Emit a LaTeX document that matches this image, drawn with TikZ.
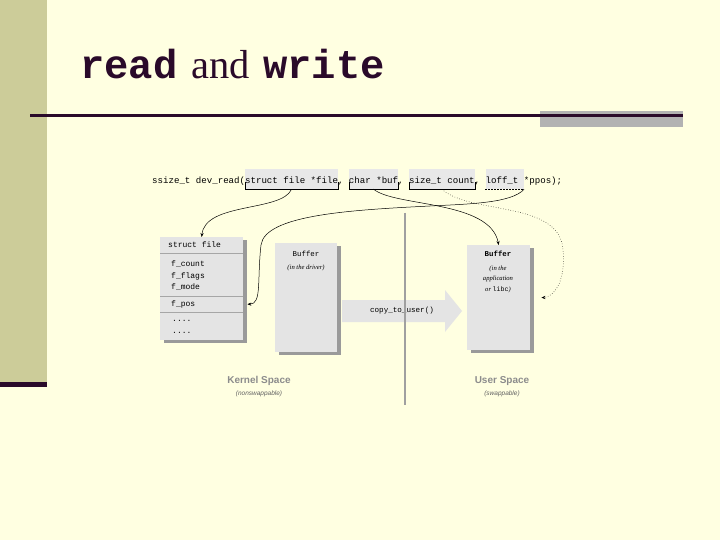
\documentclass[tikz,border=0pt]{standalone}
\usepackage{fontspec}
\setmainfont{Liberation Serif}
\setsansfont{Liberation Sans}
\setmonofont{Liberation Mono}
\usetikzlibrary{arrows.meta,shadows}
\definecolor{bgyellow}{HTML}{FFFFE1}
\definecolor{strip}{HTML}{CCCC99}
\definecolor{darkpurple}{HTML}{2A0A2A}
\definecolor{panelgray}{HTML}{E4E4E4}
\definecolor{arggray}{HTML}{E8E8E8}
\definecolor{shadowgray}{HTML}{9A9A9A}
\definecolor{labelgray}{HTML}{8C8C8C}
\definecolor{divgray}{HTML}{A0A0A0}
\tikzset{
  argbox/.style={fill=arggray, minimum height=20pt, inner sep=0pt},
  panel/.style={fill=panelgray, inner sep=0pt,
    drop shadow={shadow xshift=4pt, shadow yshift=-3pt, fill=shadowgray, opacity=1}},
  codetxt/.style={inner sep=0pt, font=\fontsize{9.11}{11}\ttfamily},
  boxtxt/.style={inner sep=0pt, font=\fontsize{8}{9}\ttfamily},
  smallit/.style={inner sep=0pt, font=\fontsize{6.6}{10.5}\itshape, align=center},
  spacelbl/.style={inner sep=0pt, text=labelgray, font=\fontsize{10}{11}\sffamily\bfseries},
  spacesub/.style={inner sep=0pt, text=labelgray!70!black, font=\fontsize{6.5}{7.5}\sffamily\itshape},
  link/.style={-{Stealth[length=4pt,width=3.2pt]}, line width=0.5pt},
  sep/.style={draw=gray!70, line width=0.5pt}
}
\begin{document}
\begin{tikzpicture}[x=1pt,y=-1pt]
\useasboundingbox (0,0) rectangle (720,540);
\fill[bgyellow] (0,0) rectangle (720,540);
% left strip
\fill[strip] (0,0) rectangle (47,382);
\fill[darkpurple] (0,382) rectangle (47,387);
% title
\node[anchor=base west, inner sep=0pt, text=darkpurple] (title) at (80,79)
  {\fontsize{40.5}{44}\selectfont\ttfamily\bfseries read\hspace{4pt}\rmfamily\mdseries{} and \hspace{3pt}\ttfamily\bfseries write};
% rule under title
\fill[gray!60] (540,111) rectangle (683,127);
\draw[darkpurple, line width=3pt] (30,116) -- (683,116);

% argument highlight boxes
\node[argbox, minimum width=92.9pt, anchor=west] (pfile) at (244.9,179) {};
\node[argbox, minimum width=49.2pt, anchor=west] (pbuf) at (348.8,179) {};
\node[argbox, minimum width=65.6pt, anchor=west] (pcount) at (408.9,179) {};
\node[argbox, minimum width=38.3pt, anchor=west] (pppos) at (485.4,179) {};
\foreach \n in {pfile,pbuf,pcount}
  \draw[line width=0.5pt] ([yshift=7pt]\n.south west) -- (\n.south west) -- (\n.south east) -- ([yshift=7pt]\n.south east);
\draw[line width=0.6pt, dashed, dash pattern=on 2pt off 1pt] (pppos.south west) -- (pppos.south east);
\node[codetxt, anchor=base west] (code) at (152,184)
  {ssize\_t dev\_read(struct file *file, char *buf, size\_t count, loff\_t *ppos);};

% struct file panel
\node[panel, minimum width=83pt, minimum height=103pt, anchor=north west] (sf) at (160,237) {};
\draw[sep] (160,253) -- (243,253);
\draw[sep] (160,296) -- (243,296);
\draw[sep] (160,312) -- (243,312);
\node[inner sep=0pt, minimum width=83pt, minimum height=16pt, anchor=north west] (fpos) at (160,296) {};
\node[boxtxt, anchor=west] (sfhead) at (168,245) {struct file};
\node[boxtxt, anchor=west] (fcount) at (171,264) {f\_count};
\node[boxtxt, anchor=west] (fflags) at (171,276) {f\_flags};
\node[boxtxt, anchor=west] (fmode) at (171,287) {f\_mode};
\node[boxtxt, anchor=west] (fposl) at (171,304) {f\_pos};
\node[boxtxt, anchor=west] (dots1) at (172,321) {....};
\node[boxtxt, anchor=west] (dots2) at (172,333) {....};

% kernel buffer
\node[panel, minimum width=62pt, minimum height=109pt, anchor=north west] (kbuf) at (275,243) {};
\node[boxtxt, font=\fontsize{7.4}{8}\ttfamily] (kbt) at (306,254) {Buffer};
\node[smallit] (kbs) at (306,268) {(in the driver)};

% copy arrow
\fill[panelgray] (342,300) -- (445,300) -- (445,290) -- (462,311) -- (445,332) -- (445,322) -- (342,322) -- cycle;
\node[boxtxt, font=\fontsize{7.6}{9}\ttfamily] (copy) at (402,311) {copy\_to\_user()};

% user buffer
\node[panel, minimum width=63pt, minimum height=105pt, anchor=north west] (ubuf) at (467,245) {};
\node[boxtxt, font=\fontsize{7.4}{8}\ttfamily\bfseries] (ubt) at (498,254) {Buffer};
\node[smallit] (ubs) at (498,279) {(in the\\application\\or {\upshape\ttfamily libc})};

% divider
\draw[divgray, line width=2.4pt] (405,213) -- (405,405);

% space labels
\node[spacelbl] (ks) at (259,381) {Kernel Space};
\node[spacesub] (kss) at (259,394) {(nonswappable)};
\node[spacelbl] (us) at (502,381) {User Space};
\node[spacesub] (uss) at (502,394) {(swappable)};

% connectors
\draw[link] (pfile.south) .. controls (282,212) and (205,202) .. (sf.north);
\draw[link] (pppos.south east) .. controls (512,203) and (470,204) .. (430,206)
  .. controls (350,210) and (265,215) .. (261,245)
  .. controls (257,280) and (262,304) .. ([xshift=4pt]fpos.east);
\draw[link] (pbuf.south) .. controls (395,207) and (490,200) .. (ubuf.north);
\draw[link, dotted] (pcount.south) .. controls (470,215) and (560,200) .. (563,250)
  .. controls (566,285) and (552,297) .. ([xshift=11pt]ubuf.east);
\end{tikzpicture}
\end{document}
